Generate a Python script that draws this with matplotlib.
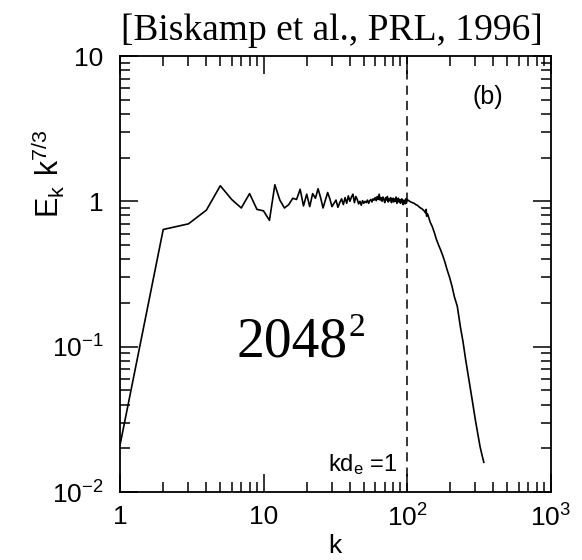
import numpy as np
import matplotlib
matplotlib.use("Agg")
import matplotlib.pyplot as plt
from matplotlib.ticker import LogLocator, NullFormatter

plt.rcParams['font.family'] = ['Liberation Sans Narrow', 'Liberation Sans', 'DejaVu Sans']
plt.rcParams['mathtext.fontset'] = 'custom'
plt.rcParams['mathtext.rm'] = 'Liberation Sans Narrow'
plt.rcParams['mathtext.it'] = 'Liberation Sans Narrow'

# spectrum: k = 1..100 on integers, then the dissipation tail
k_low = list(range(1, 101))
e_low = [0.021, 0.64, 0.70, 0.87, 1.28, 1.03, 0.90, 1.13, 0.88, 0.86,
         0.74, 1.30, 1.02, 0.90, 0.95, 1.05, 1.03, 1.21, 0.93, 1.12,
         0.92, 1.13, 1.05, 1.22, 1.06, 0.90, 1.02, 1.15, 1.04, 0.92,
         0.97, 1.02, 0.91, 0.98, 1.04, 0.95, 1.06, 0.97, 1.09, 1.00,
         1.07, 1.12, 0.98, 1.08, 1.03, 0.96, 1.00, 0.94, 1.01, 0.97,
         1.00, 0.98, 1.02, 0.97, 1.01, 1.03, 0.99, 1.04, 1.02, 1.06,
         1.01, 1.08, 1.03, 1.12, 1.02, 1.06, 1.00, 1.07, 1.03, 0.98,
         1.06, 1.02, 1.08, 0.99, 1.04, 1.01, 1.06, 0.98, 1.03, 1.05,
         0.99, 1.04, 1.00, 1.07, 0.97, 1.02, 1.05, 0.99, 1.03, 0.97,
         1.01, 1.04, 0.98, 0.95, 1.02, 0.99, 0.96, 1.04, 0.97, 1.03]

k_tail = [103, 106, 109, 112, 115, 118, 121, 124, 127, 130, 133, 135, 136,
          137, 139, 142, 145, 150, 155, 160, 166, 172, 178, 184, 190, 198,
          206, 214, 224, 236, 245, 256, 266, 277, 288, 300, 312, 323, 333, 343]
e_tail = [1.01, 0.99, 0.98, 0.97, 0.95, 0.94, 0.92, 0.90, 0.89, 0.87, 0.85,
          0.83, 0.88, 0.79, 0.82, 0.77, 0.72, 0.67, 0.61, 0.55, 0.50, 0.46,
          0.42, 0.38, 0.34, 0.30, 0.26, 0.22, 0.19, 0.135, 0.11, 0.082,
          0.065, 0.051, 0.040, 0.031, 0.025, 0.0205, 0.018, 0.016]

k_de = 100
x_ticks = [1, 10, 100, 1000]
x_labels = ['1', '10', r'$\mathregular{10^2}$', r'$\mathregular{10^3}$']
y_ticks = [0.01, 0.1, 1, 10]
y_labels = [r'$\mathregular{10^{-2}}$', r'$\mathregular{10^{-1}}$', '1', '10']

k = np.array(k_low + k_tail)
ek = np.array(e_low + e_tail)

fig = plt.figure(figsize=(5.82, 5.6), dpi=100)
ax = fig.add_axes([120/582, 68/560, 430.5/582, 436/560])

ax.plot(k, ek, color='black', lw=1.2)
ax.axvline(k_de, color='black', lw=1.1, ls=(0, (6, 4)))

ax.set_xscale('log')
ax.set_yscale('log')
ax.set_xlim(1, 1000)
ax.set_ylim(0.01, 10)

ax.set_xticks(x_ticks)
ax.set_xticklabels(x_labels)
ax.set_yticks(y_ticks)
ax.set_yticklabels(y_labels)
for axis in (ax.xaxis, ax.yaxis):
    axis.set_minor_locator(LogLocator(base=10, subs=np.arange(2, 10)))
    axis.set_minor_formatter(NullFormatter())

ax.tick_params(which='both', direction='in', top=True, right=True, width=1.1)
ax.tick_params(which='major', length=13, labelsize=19)
ax.tick_params(which='minor', length=7)
ax.tick_params(axis='x', which='major', pad=9)
ax.tick_params(axis='y', which='major', pad=12)
for s in ax.spines.values():
    s.set_linewidth(1.3)

ax.set_xlabel('k', fontsize=19, labelpad=2)
ax.set_ylabel(r'$\mathregular{E_k\ k^{7/3}}$', fontsize=22)
ax.yaxis.set_label_coords(-0.122, 0.73)

ax.text(0.855, 0.905, '(b)', transform=ax.transAxes, fontsize=18, ha='center', va='center')
ax.text(0.645, 0.048, r'$\mathregular{kd_e}$ =1', transform=ax.transAxes, fontsize=17, ha='right', va='baseline')

serif = ['Liberation Serif', 'DejaVu Serif']
base = ax.text(0.27, 0.31, '2048', transform=ax.transAxes, fontsize=40, family=serif, va='baseline')
ax.annotate('2', xy=(1.0, 1.0), xycoords=base, xytext=(1, 3), textcoords='offset points',
            fontsize=24, family=serif, ha='left', va='top')

fig.text(543/582, 1 - 40/560, '[Biskamp et al., PRL, 1996]', fontsize=27,
         family=serif, ha='right', va='baseline')

fig.savefig('out.png', dpi=100)
